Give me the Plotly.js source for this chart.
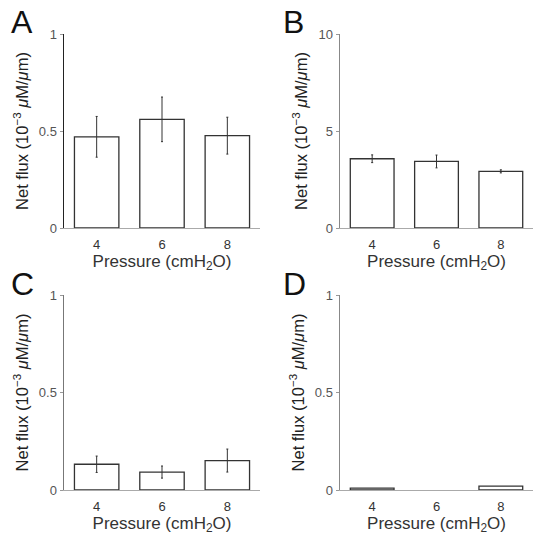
<!DOCTYPE html>
<html>
<head>
<meta charset="utf-8">
<script src="https://cdn.plot.ly/plotly-3.0.1.min.js"></script>
<style>html,body{margin:0;padding:0;background:#fff;}#chart{width:533px;height:538px;}</style>
</head>
<body>
<div id="chart"></div>
<script>
const categories = ['4', '6', '8'];
const panelLabels = ['A', 'B', 'C', 'D'];
const valuesA = [0.47, 0.56, 0.476];
const errorsA = [0.105, 0.115, 0.095];
const valuesB = [3.57, 3.43, 2.92];
const errorsB = [0.2, 0.33, 0.08];
const valuesC = [0.132, 0.092, 0.151];
const errorsC = [0.042, 0.031, 0.059];
const valuesD = [0.01, null, 0.02];
const errorsD = [null, null, null];
const yMaxes = [1, 10, 1, 1];
const yTickVals = [[0, 0.5, 1], [0, 5, 10], [0, 0.5, 1], [0, 0.5, 1]];
const yTickText = [['0', '0.5', '1'], ['0', '5', '10'], ['0', '0.5', '1'], ['0', '0.5', '1']];

const W = 533, H = 538;
const px = v => v / W;
const py = v => 1 - v / H;

const series = [[valuesA, errorsA], [valuesB, errorsB], [valuesC, errorsC], [valuesD, errorsD]];
const xDomains = [[px(64), px(260)], [px(340), px(533)], [px(64), px(260)], [px(340), px(533)]];
const yDomains = [[py(228), py(34)], [py(228), py(34)], [py(490), py(295)], [py(490), py(295)]];
const yLineColors = ['#222', '#888', '#777', '#888'];

const data = [];
const layout = {
  width: W, height: H,
  margin: {l: 0, r: 0, t: 0, b: 0},
  paper_bgcolor: '#fff', plot_bgcolor: 'rgba(0,0,0,0)',
  showlegend: false,
  font: {family: 'Liberation Sans, Arial, sans-serif', color: '#222'},
  annotations: []
};

series.forEach((s, i) => {
  const n = i + 1;
  const xa = n === 1 ? 'x' : 'x' + n;
  const ya = n === 1 ? 'y' : 'y' + n;
  const hasErr = s[1].some(v => v !== null);
  data.push({
    type: 'bar', x: categories, y: s[0], xaxis: xa, yaxis: ya,
    width: 0.68,
    marker: {color: '#fff', line: {color: '#333', width: 1.3}},
    error_y: {type: 'data', array: s[1], visible: hasErr, color: '#333', thickness: 1, width: 1},
    hoverinfo: 'none'
  });
  const xKey = n === 1 ? 'xaxis' : 'xaxis' + n;
  const yKey = n === 1 ? 'yaxis' : 'yaxis' + n;
  layout[xKey] = {
    domain: xDomains[i], anchor: ya, type: 'category', range: [-0.5, 2.5],
    showline: true, linecolor: '#aaa', linewidth: 1.3, ticks: '', showgrid: false, zeroline: false,
    tickfont: {size: 13, color: '#333'}, ticklabelstandoff: 4,
    title: {text: 'Pressure (cmH<sub>2</sub>O)', font: {size: 17, color: '#333'}, standoff: 3},
    automargin: false
  };
  layout[yKey] = {
    domain: yDomains[i], anchor: xa, range: [0, yMaxes[i]],
    tickvals: yTickVals[i], ticktext: yTickText[i],
    showline: true, linecolor: yLineColors[i], linewidth: 1.5,
    ticks: 'outside', ticklen: 3, tickcolor: '#999', tickwidth: 1,
    showgrid: false, zeroline: false,
    tickfont: {size: 13, color: '#555'},
    title: {text: 'Net flux (10<sup>−3</sup> <i>μ</i>M/<i>μ</i>m)', font: {size: 16.5, color: '#222'}, standoff: 6},
    automargin: false
  };
});

const labelPos = [[22, 22], [293, 22], [22, 284], [294, 284]];
panelLabels.forEach((t, i) => {
  layout.annotations.push({
    text: t, xref: 'paper', yref: 'paper', x: px(labelPos[i][0]), y: py(labelPos[i][1]),
    xanchor: 'center', yanchor: 'middle', showarrow: false,
    font: {size: 32, color: '#111', family: 'Liberation Sans, Arial, sans-serif'}
  });
});

Plotly.newPlot('chart', data, layout, {staticPlot: true});
</script>
</body>
</html>
